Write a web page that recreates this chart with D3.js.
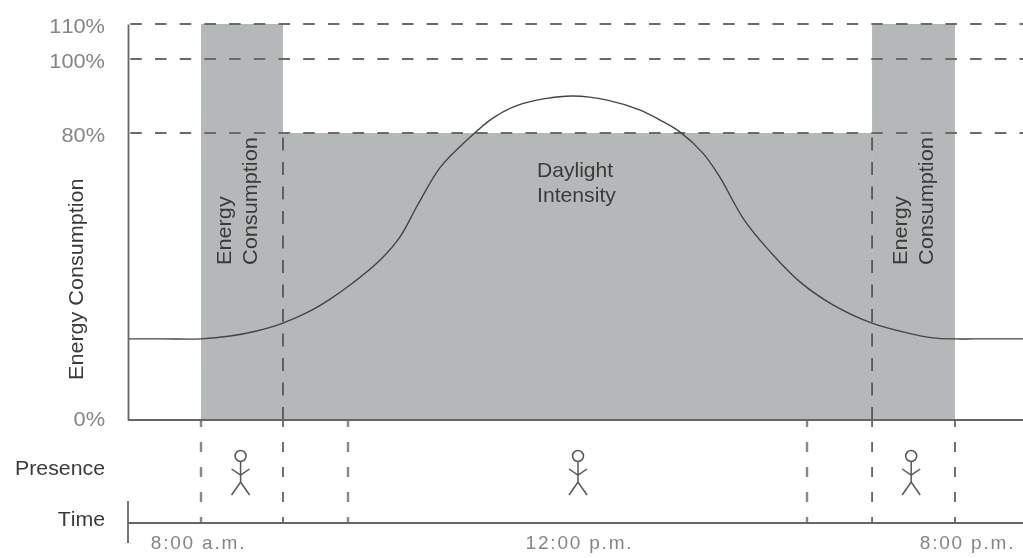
<!DOCTYPE html>
<html>
<head>
<meta charset="utf-8">
<script src="https://cdn.jsdelivr.net/npm/d3@7"></script>
<style>
  html, body { margin: 0; padding: 0; background: #fff; overflow: hidden; }
  svg { display: block; filter: blur(0.6px); font-family: "Liberation Sans", Arial, sans-serif; font-kerning: none; }
</style>
</head>
<body>
<svg width="1023" height="558"></svg>
<script>
// daylight curve, hours of the day against percent
var curveHours = [7.23, 7.6, 8.00, 8.31, 8.59, 8.87, 9.16, 9.37, 9.61, 9.87, 10.11, 10.30, 10.54, 10.82, 11.10, 11.35, 11.65, 11.95,
                  12.62, 13.32, 13.74, 14.16, 14.65, 15.01, 15.50, 16.01, 16.71, 17.41, 18.24, 18.98, 19.53, 20.00, 20.4, 21.44];
var curveValues = [22.6, 22.6, 22.6, 23.4, 24.8, 27.0, 30.4, 33.7, 38.2, 43.8, 51.0, 60.0, 70.5, 78.0, 84.1, 87.4, 89.3, 90.0,
                   88.9, 86.2, 83.5, 80.3, 74.4, 67.7, 56.3, 47.9, 38.5, 32.1, 27.0, 24.3, 22.9, 22.6, 22.6, 22.6];

// energy consumption blocks
var bandStart = [8, 8.87, 18.24];
var bandEnd = [8.87, 18.24, 20];
var bandLevel = [110, 80, 110];

var levelTicks = [110, 100, 80, 0];
var dashedLevels = [110, 100, 80];
var timeTicks = [8, 12, 20];
var timeLabels = ["8:00 a.m.", "12:00 p.m.", "8:00 p.m."];
var presenceTimes = [8, 8.87, 9.56, 16.86, 18.24, 20];
var switchTimes = [8.87, 18.24];
var personTimes = [8.42, 12, 19.07];

var svg = d3.select("svg");

// the drawing is not to scale, so both scales are piecewise
var x = d3.scaleLinear().domain([7.23, 8, 12, 20, 21.44]).range([128, 201, 578, 955, 1023]);
var y = d3.scaleLinear().domain([0, 80, 100, 110]).range([420, 133, 59, 24]);

var lineColor = "#666";
var presenceTop = 420, timeY = 523;

// grey blocks
svg.selectAll(".band")
    .data(bandStart)
  .enter().append("rect")
    .attr("class", "band")
    .attr("x", function(d) { return x(d); })
    .attr("y", function(d, i) { return y(bandLevel[i]); })
    .attr("width", function(d, i) { return x(bandEnd[i]) - x(d); })
    .attr("height", function(d, i) { return y(0) - y(bandLevel[i]); })
    .attr("fill", "#b5b8b9");

// horizontal dashes
svg.selectAll(".level")
    .data(dashedLevels)
  .enter().append("line")
    .attr("class", "level")
    .attr("x1", x(7.23)).attr("x2", 1023)
    .attr("y1", function(d) { return y(d); })
    .attr("y2", function(d) { return y(d); })
    .attr("stroke", "#6a6a6a")
    .attr("stroke-width", 2)
    .attr("stroke-dasharray", "11.5 13.2")
    .attr("stroke-dashoffset", 22.4);

// vertical dashes in the main plot
svg.selectAll(".switch")
    .data(switchTimes)
  .enter().append("line")
    .attr("class", "switch")
    .attr("x1", function(d) { return x(d); })
    .attr("x2", function(d) { return x(d); })
    .attr("y1", y(80)).attr("y2", y(0))
    .attr("stroke", "#444")
    .attr("stroke-width", 1.5)
    .attr("stroke-dasharray", "13 11.5")
    .attr("stroke-dashoffset", 20);

// vertical dashes in the presence row, some print softer than others
svg.selectAll(".presence")
    .data(presenceTimes)
  .enter().append("line")
    .attr("class", "presence")
    .attr("x1", function(d) { return x(d); })
    .attr("x2", function(d) { return x(d); })
    .attr("y1", presenceTop).attr("y2", timeY)
    .attr("stroke", function(d, i) { return [0, 2, 3].indexOf(i) >= 0 ? "#888" : "#444"; })
    .attr("stroke-width", function(d, i) { return [0, 2, 3].indexOf(i) >= 0 ? 2.4 : 1.5; })
    .attr("stroke-dasharray", "10 15")
    .attr("stroke-dashoffset", 3);

// daylight curve
var line = d3.line()
    .x(function(d, i) { return x(curveHours[i]); })
    .y(function(d) { return y(d); })
    .curve(d3.curveCatmullRom);

svg.append("path")
    .datum(curveValues)
    .attr("fill", "none")
    .attr("stroke", "#444")
    .attr("stroke-width", 1.4)
    .attr("d", line);

// level axis
var levelAxis = svg.append("g")
    .attr("transform", "translate(" + x(7.23) + ",0)")
    .call(d3.axisLeft(y).tickValues(levelTicks).tickSize(0).tickFormat(function(d) { return d + "%"; }));
levelAxis.select(".domain").attr("stroke", lineColor).attr("stroke-width", 1.8);
levelAxis.selectAll("text")
    .attr("font-size", 20)
    .attr("fill", "#858585")
    .attr("font-family", null)
    .attr("x", 0)
    .attr("transform", function(d) { return "translate(-23," + (d ? 2 : -1) + ") scale(1.09,1)"; });

// baseline of the plot
svg.append("line")
    .attr("x1", x(7.23)).attr("x2", 1023)
    .attr("y1", y(0)).attr("y2", y(0))
    .attr("stroke", lineColor)
    .attr("stroke-width", 2);

// time axis
var timeAxis = svg.append("g")
    .attr("transform", "translate(0," + timeY + ")")
    .call(d3.axisBottom(x).tickValues(timeTicks).tickSize(0).tickPadding(13).tickFormat(function(d, i) { return timeLabels[i]; }));
timeAxis.select(".domain").attr("d", "M" + x(7.23) + ",0H1023").attr("stroke", lineColor).attr("stroke-width", 1.8);
timeAxis.selectAll("text")
    .attr("font-size", 19)
    .attr("fill", "#858585")
    .attr("font-family", null)
    .attr("letter-spacing", 1.8)
    .attr("dx", function(d, i) { return [-3, 1, 12][i]; });

svg.append("line")
    .attr("x1", x(7.23)).attr("x2", x(7.23))
    .attr("y1", 501).attr("y2", 543)
    .attr("stroke", lineColor)
    .attr("stroke-width", 1.8);

// stick figures
var person = svg.selectAll(".person")
    .data(personTimes)
  .enter().append("g")
    .attr("class", "person")
    .attr("transform", function(d) { return "translate(" + x(d) + ",456)"; })
    .attr("fill", "none")
    .attr("stroke", "#555")
    .attr("stroke-width", 1.5);
person.append("circle").attr("r", 5.5);
person.append("path").attr("d", "M0,5.5V26M-9,13L0,19L9,13M-9,39L0,26L9,39");

// labels, stretched along the reading direction like the original lettering
function addLabel(px, py, txt, anchor, rotate, stretch) {
    svg.append("text")
        .attr("transform", "translate(" + px + "," + py + ")" + (rotate ? " rotate(-90)" : "") + " scale(" + stretch + ",1)")
        .attr("text-anchor", anchor)
        .attr("font-size", 20)
        .attr("fill", "#3a3a3a")
        .text(txt);
}

addLabel(105, 475, "Presence", "end", false, 1.065);
addLabel(105, 526, "Time", "end", false, 1.065);
addLabel(83, 380, "Energy Consumption", "start", true, 1.08);
addLabel(537, 177, "Daylight", "start", false, 1.055);
addLabel(537, 202, "Intensity", "start", false, 1.06);
addLabel(230.5, 265, "Energy", "start", true, 1.085);
addLabel(256.5, 265, "Consumption", "start", true, 1.085);
addLabel(907, 265, "Energy", "start", true, 1.085);
addLabel(933, 265, "Consumption", "start", true, 1.085);
</script>
</body>
</html>
